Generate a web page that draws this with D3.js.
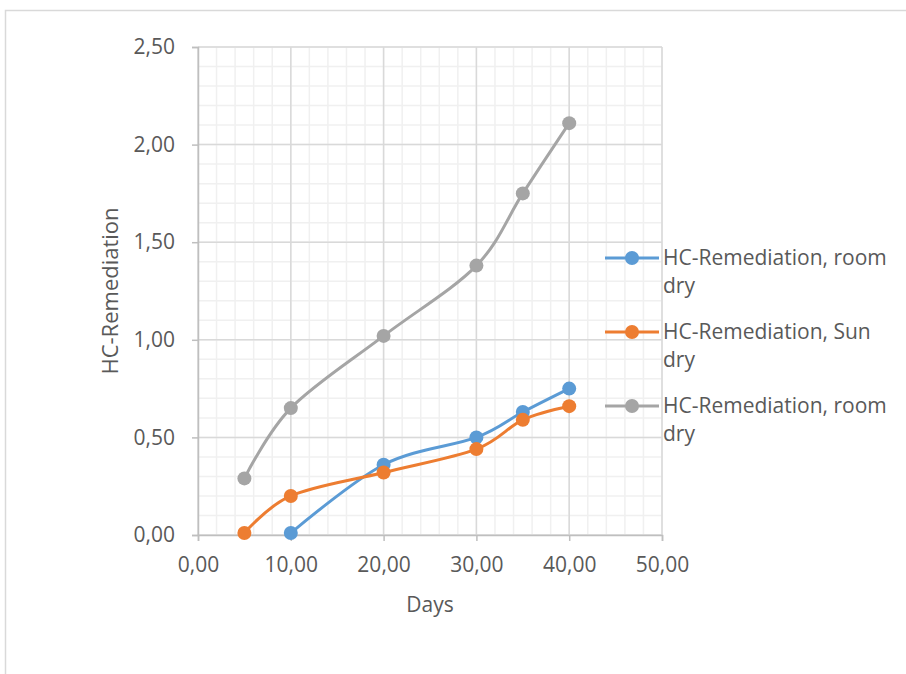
<!DOCTYPE html>
<html>
<head>
<meta charset="utf-8">
<script src="https://cdn.jsdelivr.net/npm/d3@7"></script>
<style>
  html, body { margin: 0; padding: 0; background: #fff; }
  svg { display: block; }
  text { font-family: "Open Sans", Lato, sans-serif; fill: #595959; }
</style>
</head>
<body>
<svg id="chart" width="906" height="674"></svg>
<script>
// Days on the x axis, remediation on the y axis
const roomDryDays = [10, 20, 30, 35, 40];
const roomDryValues = [0.01, 0.36, 0.50, 0.63, 0.75];
const sunDryDays = [5, 10, 20, 30, 35, 40];
const sunDryValues = [0.01, 0.20, 0.32, 0.44, 0.59, 0.66];
const roomDry2Days = [5, 10, 20, 30, 35, 40];
const roomDry2Values = [0.29, 0.65, 1.02, 1.38, 1.75, 2.11];
const seriesNames = ["HC-Remediation, room dry", "HC-Remediation, Sun dry", "HC-Remediation, room dry"];
const xTicks = [0, 10, 20, 30, 40, 50];
const yTicks = [0, 0.5, 1.0, 1.5, 2.0, 2.5];

const series = [
  { name: seriesNames[0], days: roomDryDays, values: roomDryValues, color: "#5b9bd5" },
  { name: seriesNames[1], days: sunDryDays, values: sunDryValues, color: "#ed7d31" },
  { name: seriesNames[2], days: roomDry2Days, values: roomDry2Values, color: "#a5a5a5" }
];

const svg = d3.select("#chart");
const plotL = 198, plotR = 662, plotT = 47, plotB = 535;
const fmt = v => d3.format(".2f")(v).replace(".", ",");
const fontFamily = "'Open Sans', Lato, sans-serif";

const x = d3.scaleLinear().domain([0, 50]).range([plotL, plotR]);
const y = d3.scaleLinear().domain([0, 2.5]).range([plotB, plotT]);

// chart frame
svg.append("rect").attr("x", 5.5).attr("y", 10.5).attr("width", 1000).attr("height", 1000)
  .attr("fill", "none").attr("stroke", "#d9d9d9").attr("stroke-width", 1.5);

// minor grid
const g = svg.append("g");
g.selectAll(".mx").data(d3.range(0, 50.01, 2)).join("line")
  .attr("x1", d => x(d)).attr("x2", d => x(d)).attr("y1", plotT).attr("y2", plotB)
  .attr("stroke", "#f0f0f0").attr("stroke-width", 1.5);
g.selectAll(".my").data(d3.range(0, 25.01, 1).map(v => v / 10)).join("line")
  .attr("y1", d => y(d)).attr("y2", d => y(d)).attr("x1", plotL).attr("x2", plotR)
  .attr("stroke", "#f0f0f0").attr("stroke-width", 1.5);
// major grid
g.selectAll(".Mx").data(xTicks).join("line")
  .attr("x1", d => x(d)).attr("x2", d => x(d)).attr("y1", plotT).attr("y2", plotB)
  .attr("stroke", "#d9d9d9").attr("stroke-width", 1.5);
g.selectAll(".My").data(yTicks).join("line")
  .attr("y1", d => y(d)).attr("y2", d => y(d)).attr("x1", plotL).attr("x2", plotR)
  .attr("stroke", "#d9d9d9").attr("stroke-width", 1.5);

// axes
const xAxis = svg.append("g").attr("transform", `translate(0,${plotB})`)
  .call(d3.axisBottom(x).tickValues(xTicks).tickFormat(fmt).tickSize(6).tickPadding(16));
const yAxis = svg.append("g").attr("transform", `translate(${plotL},0)`)
  .call(d3.axisLeft(y).tickValues(yTicks).tickFormat(fmt).tickSize(6).tickPadding(17));
[xAxis, yAxis].forEach(a => {
  a.select(".domain").attr("stroke", "#bfbfbf").attr("stroke-width", 1.5);
  a.selectAll(".tick line").attr("stroke", "#bfbfbf").attr("stroke-width", 1.5);
  a.selectAll("text").attr("fill", "#595959").style("font-size", "21px")
    .style("font-family", fontFamily);
});

// axis titles
svg.append("text").attr("x", (plotL + plotR) / 2).attr("y", 612).attr("text-anchor", "middle")
  .style("font-size", "21px").text("Days");
svg.append("text").attr("transform", `translate(118,${(plotT + plotB) / 2}) rotate(-90)`)
  .attr("text-anchor", "middle").style("font-size", "22px").text("HC-Remediation");

// smoothed series lines and markers
const line = d3.line().curve(d3.curveCardinal.tension(0)).x(d => x(d[0])).y(d => y(d[1]));
series.forEach(s => {
  const pts = s.days.map((d, i) => [d, s.values[i]]);
  svg.append("path").datum(pts).attr("d", line).attr("fill", "none")
    .attr("stroke", s.color).attr("stroke-width", 3).attr("stroke-linecap", "round");
  svg.append("g").selectAll("circle").data(pts).join("circle")
    .attr("cx", d => x(d[0])).attr("cy", d => y(d[1])).attr("r", 7).attr("fill", s.color);
});

// legend
const legend = svg.append("g");
series.forEach((s, i) => {
  const ly = 258 + i * 74;
  legend.append("line").attr("x1", 605).attr("x2", 659).attr("y1", ly).attr("y2", ly)
    .attr("stroke", s.color).attr("stroke-width", 3);
  legend.append("circle").attr("cx", 632).attr("cy", ly).attr("r", 7).attr("fill", s.color);
  const words = s.name.split(" ");
  const first = words.slice(0, -1).join(" ");
  const last = words[words.length - 1];
  legend.append("text").attr("x", 663).attr("y", ly + 7).style("font-size", "21px").text(first);
  legend.append("text").attr("x", 663).attr("y", ly + 35).style("font-size", "21px").text(last);
});
</script>
</body>
</html>
